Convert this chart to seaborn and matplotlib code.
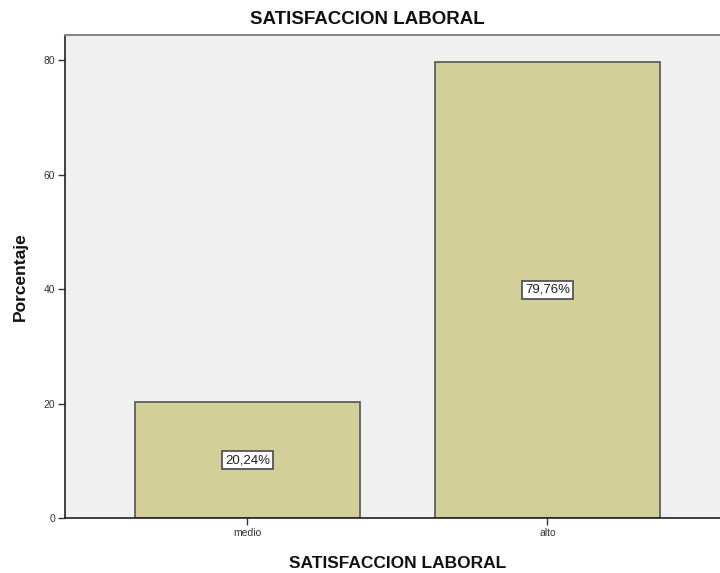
import pandas as pd
import numpy as np
import seaborn as sns
import matplotlib.pyplot as plt

categorias = ["medio", "alto"]
porcentajes = [20.24, 79.76]
etiquetas = ["20,24%", "79,76%"]

sns.set_style("white")
plt.rcParams["font.family"] = ["Liberation Sans", "DejaVu Sans"]

df = pd.DataFrame({"nivel": categorias, "pct": porcentajes})

fig = plt.figure(figsize=(7.2, 5.73), dpi=100)
ax = fig.add_axes([65 / 720, 55 / 573, 1 - 65 / 720, 483 / 573])
ax.set_facecolor("#f0f0f0")

sns.barplot(data=df, x="nivel", y="pct", color="#d3cf98", width=0.75,
            edgecolor="#555555", linewidth=1.2, saturation=1, ax=ax)

for i, (v, t) in enumerate(zip(porcentajes, etiquetas)):
    ax.text(i, v / 2, t, ha="center", va="center", fontsize=9.5, color="#222222",
            bbox=dict(boxstyle="square,pad=0.22", fc="white", ec="#555555", lw=1.3))

ax.set_xlim(-0.608, 1.575)
ax.set_ylim(0, 84.4)
ax.set_yticks([0, 20, 40, 60, 80])
ax.tick_params(axis="both", length=5, width=1, labelsize=7.5, color="#333333",
               labelcolor="#333333", direction="out", pad=2)
ax.tick_params(axis="x", bottom=True)
ax.tick_params(axis="y", left=True)

for s in ["left", "bottom"]:
    ax.spines[s].set_color("#222222")
    ax.spines[s].set_linewidth(1.2)
ax.spines["top"].set_color("#888888")
ax.spines["top"].set_linewidth(1.5)
ax.spines["right"].set_visible(False)

fig.text(367.5 / 720, 1 - 20 / 573, "SATISFACCION LABORAL", ha="center", va="center",
         fontsize=13.5, fontweight="bold", color="#111111")
ax.set_xlabel("SATISFACCION LABORAL", fontsize=12.5, fontweight="bold", color="#111111",
              va="center")
ax.xaxis.set_label_coords((398 - 65) / 655, -(563 - 518) / 483)
ax.set_ylabel("Porcentaje", fontsize=12.5, fontweight="bold", color="#111111",
              va="center")
ax.yaxis.set_label_coords(-(65 - 20) / 655, (518 - 277) / 483)

fig.savefig("out.png", dpi=100)
